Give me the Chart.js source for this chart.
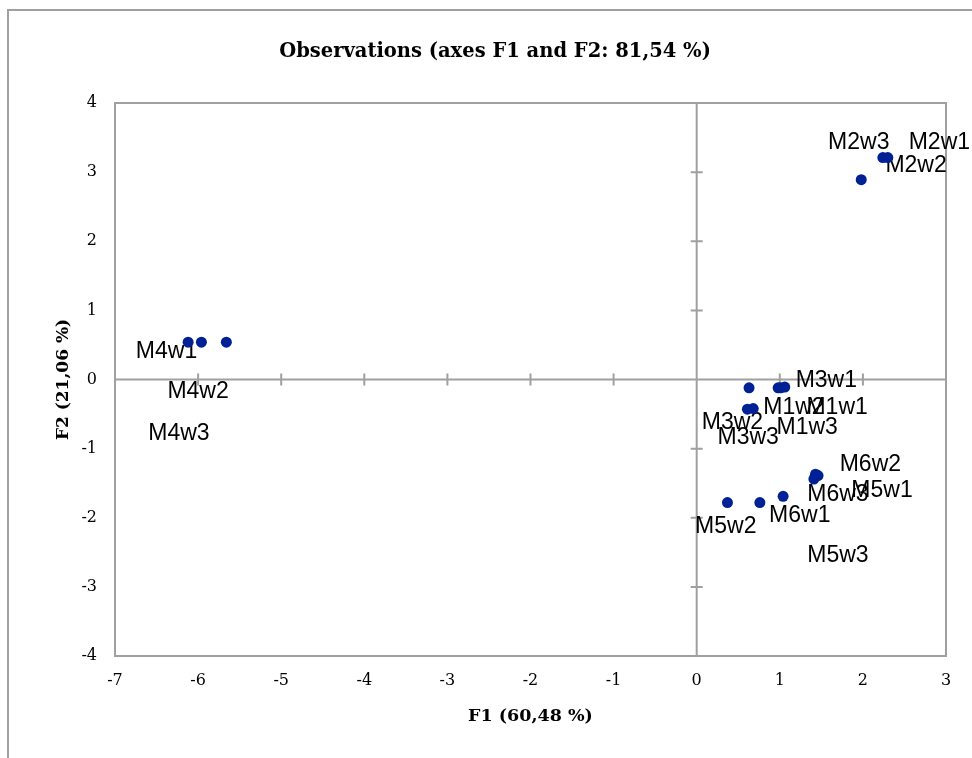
<!DOCTYPE html>
<html>
<head>
<meta charset="utf-8">
<script src="https://cdn.jsdelivr.net/npm/chart.js@4"></script>
<style>
  html, body { margin: 0; padding: 0; background: #fff; overflow: hidden; }
  #wrap { position: relative; width: 972px; height: 758px; }
</style>
</head>
<body>
<div id="wrap"><canvas id="c" width="972" height="758"></canvas></div>
<script>
// ---- Data ----
const pointNames = ['M4w1','M4w2','M4w3','M2w1','M2w2','M2w3','M3w1','M1w1','M1w2','M3w2','M3w3','M1w3','M5w2','M6w1','M5w3','M6w2','M5w1','M6w3'];
const f1Values   = [-6.12, -5.96, -5.66, 2.30, 2.24, 1.98, 1.06, 1.01, 0.98, 0.61, 0.68, 0.63, 0.37, 0.76, 1.04, 1.46, 1.43, 1.41];
const f2Values   = [0.54, 0.54, 0.54, 3.21, 3.21, 2.89, -0.11, -0.12, -0.12, -0.43, -0.42, -0.12, -1.78, -1.78, -1.69, -1.39, -1.37, -1.44];
// label anchors (data units) as placed in the reference
const labelF1    = [-6.38, -6.00, -6.23, 2.92, 2.64, 1.95, 1.56, 1.69, 1.17, 0.43, 0.62, 1.33, 0.35, 1.24, 1.70, 2.09, 2.23, 1.70];
const labelF2    = [0.40, -0.17, -0.79, 3.42, 3.10, 3.42, -0.01, -0.41, -0.41, -0.63, -0.84, -0.70, -2.13, -1.97, -2.55, -1.23, -1.61, -1.66];
const xTickValues = [-7, -6, -5, -4, -3, -2, -1, 0, 1, 2, 3];
const yTickValues = [-4, -3, -2, -1, 0, 1, 2, 3, 4];
const chartTitle = 'Observations (axes F1 and F2: 81,54 %)';
const xTitle = 'F1 (60,48 %)';
const yTitle = 'F2 (21,06 %)';

const LINE = '#a0a0a0';
const serif = "'DejaVu Serif', serif";

const framePlugin = {
  id: 'frame',
  beforeDraw(chart) {
    const ctx = chart.ctx;
    ctx.save();
    ctx.strokeStyle = LINE;
    ctx.lineWidth = 2;
    ctx.beginPath();
    ctx.moveTo(8, 758);
    ctx.lineTo(8, 10);
    ctx.lineTo(972, 10);
    ctx.stroke();
    ctx.restore();
  },
  beforeDatasetsDraw(chart) {
    const ctx = chart.ctx;
    const a = chart.chartArea;
    const xs = chart.scales.x, ys = chart.scales.y;
    ctx.save();
    ctx.strokeStyle = LINE;
    ctx.lineWidth = 2;
    ctx.strokeRect(a.left, a.top, a.right - a.left, a.bottom - a.top);
    const x0 = xs.getPixelForValue(0), y0 = ys.getPixelForValue(0);
    ctx.beginPath();
    ctx.moveTo(x0, a.top); ctx.lineTo(x0, a.bottom);
    ctx.moveTo(a.left, y0); ctx.lineTo(a.right, y0);
    xTickValues.forEach(v => {
      const px = xs.getPixelForValue(v);
      ctx.moveTo(px, y0 - 6); ctx.lineTo(px, y0 + 6);
    });
    yTickValues.forEach(v => {
      const py = ys.getPixelForValue(v);
      ctx.moveTo(x0 - 6, py); ctx.lineTo(x0 + 6, py);
    });
    ctx.stroke();
    // point labels
    ctx.fillStyle = '#000';
    ctx.font = "23px 'Liberation Sans', Arial, sans-serif";
    ctx.textAlign = 'center';
    ctx.textBaseline = 'middle';
    pointNames.forEach((n, i) => {
      ctx.fillText(n, xs.getPixelForValue(labelF1[i]), ys.getPixelForValue(labelF2[i]));
    });
    ctx.restore();
  }
};

new Chart(document.getElementById('c'), {
  type: 'scatter',
  data: {
    datasets: [{
      label: 'Observations',
      data: f1Values.map((x, i) => ({ x: x, y: f2Values[i] })),
      backgroundColor: '#002096',
      borderColor: '#002096',
      pointRadius: 5.5,
      pointHoverRadius: 5.5,
      borderWidth: 0
    }]
  },
  options: {
    responsive: false,
    animation: false,
    events: [],
    layout: { padding: { left: 44, right: 26, top: 0, bottom: 0 } },
    plugins: {
      legend: { display: false },
      tooltip: { enabled: false },
      title: {
        display: true,
        text: chartTitle,
        color: '#000',
        font: { family: serif, weight: 'bold', size: 19.5, lineHeight: 1.2 },
        padding: { top: 40.3, bottom: 39.3 }
      }
    },
    scales: {
      x: {
        type: 'linear',
        min: -7, max: 3,
        afterFit(s) { s.height = 102; },
        afterBuildTicks(s) { s.ticks = xTickValues.map(v => ({ value: v })); },
        grid: { display: false, drawTicks: false },
        border: { display: false },
        ticks: { color: '#000', padding: 15.4, font: { family: serif, size: 16, lineHeight: 1.2 }, maxRotation: 0 },
        title: {
          display: true, text: xTitle, color: '#000',
          font: { family: serif, weight: 'bold', size: 17.5, lineHeight: 1.2 },
          padding: { top: 0, bottom: 31.5 }
        }
      },
      y: {
        type: 'linear',
        min: -4, max: 4,
        afterFit(s) { s.width = 71; },
        afterBuildTicks(s) { s.ticks = yTickValues.map(v => ({ value: v })); },
        grid: { display: false, drawTicks: false },
        border: { display: false },
        ticks: { color: '#000', padding: 18, font: { family: serif, size: 16, lineHeight: 1.2 } },
        title: {
          display: true, text: yTitle, color: '#000',
          font: { family: serif, weight: 'bold', size: 17, lineHeight: 1.2 },
          padding: { top: 9, bottom: 0 }
        }
      }
    }
  },
  plugins: [framePlugin]
});
</script>
</body>
</html>
